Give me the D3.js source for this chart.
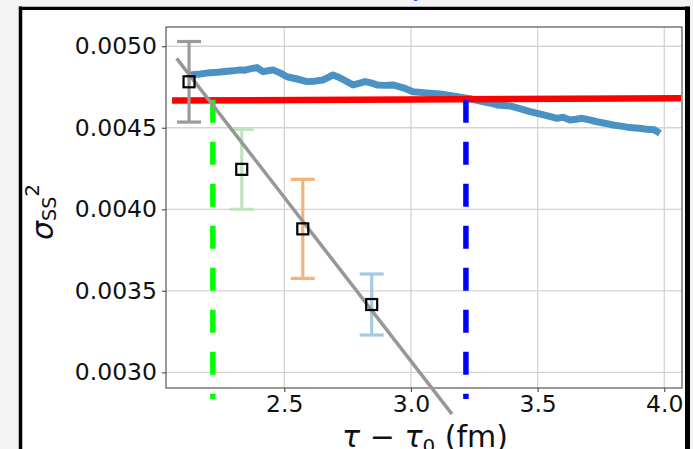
<!DOCTYPE html>
<html>
<head>
<meta charset="utf-8">
<script src="https://cdn.jsdelivr.net/npm/d3@7"></script>
<style>
  html, body { margin: 0; padding: 0; background: #f3f3f3; }
  svg { display: block; }
  text { font-family: "DejaVu Sans", sans-serif; }
</style>
</head>
<body>
<svg id="chart" width="693" height="449"></svg>
<script>
// Time-evolution curve of sigma_SS^2 (tau - tau0 in fm, value)
const curveTau = [2.128, 2.168, 2.207, 2.236, 2.266, 2.296, 2.325, 2.345, 2.365, 2.392, 2.416, 2.436,
  2.455, 2.485, 2.511, 2.550, 2.590, 2.620, 2.653, 2.672, 2.692, 2.712, 2.732, 2.771, 2.795, 2.819,
  2.842, 2.866, 2.898, 2.929, 2.970, 3.008, 3.060, 3.115, 3.160, 3.206, 3.240, 3.273, 3.310, 3.340,
  3.391, 3.430, 3.470, 3.520, 3.577, 3.600, 3.628, 3.652, 3.675, 3.705, 3.734, 3.765, 3.797, 3.830,
  3.864, 3.900, 3.931, 3.960, 3.983];
const curveVal = [0.004824, 0.004830, 0.004838, 0.004840, 0.004845, 0.004849, 0.004855, 0.004853,
  0.004861, 0.004869, 0.004844, 0.004850, 0.004855, 0.004835, 0.004813, 0.004799, 0.004783, 0.004786,
  0.004793, 0.004808, 0.004824, 0.004812, 0.004796, 0.004763, 0.004772, 0.004783, 0.004775, 0.004763,
  0.004760, 0.004763, 0.004745, 0.004721, 0.004714, 0.004707, 0.004697, 0.004685, 0.004676, 0.004664,
  0.004652, 0.004640, 0.004634, 0.004617, 0.004599, 0.004580, 0.004558, 0.004564, 0.004548, 0.004552,
  0.004558, 0.004548, 0.004537, 0.004528, 0.004517, 0.004510, 0.004501, 0.004497, 0.004491, 0.004488,
  0.004466];

// Red reference level
const refTau = [2.057, 4.066];
const refVal = [0.004667, 0.004681];

// Grey linear fit through the binned points
const fitTau = [2.075, 3.162];
const fitVal = [0.004926, 0.002744];

// Binned points with symmetric errors
const binTau = [2.124, 2.332, 2.573, 2.845];
const binVal = [0.004782, 0.004245, 0.003880, 0.003416];
const binErr = [0.000247, 0.000245, 0.000304, 0.000187];
const binColor = ["#9a9a9a", "#c0e3c0", "#f6b278", "#a5c9e1"];

// Vertical markers where the fit and the curve reach the red level
const markTau = [2.218, 3.217];
const markTop = 0.004672;
const markBottom = 0.002836;
const markColor = ["#00ff00", "#0000ff"];

const xTicks = [2.5, 3.0, 3.5, 4.0];
const yTicks = [0.0030, 0.0035, 0.0040, 0.0045, 0.0050];

const svg = d3.select("#chart");

// caption line running above the frame
svg.append("text")
  .attr("x", 330).attr("y", -3.5)
  .attr("font-family", "'Noto Sans', sans-serif")
  .attr("font-size", 20).attr("fill", "#2a6fdb")
  .text("Au+Au, y = 0, fit of σ²(τ) (fm)");

// white panel with black frame
svg.append("rect").attr("x", 20).attr("y", 8).attr("width", 668).attr("height", 460).attr("fill", "#fff");
svg.append("line").attr("x1", 20.5).attr("x2", 20.5).attr("y1", 6.5).attr("y2", 460)
  .attr("stroke", "#000").attr("stroke-width", 3.5);
svg.append("line").attr("x1", 19).attr("x2", 690).attr("y1", 8.3).attr("y2", 8.3)
  .attr("stroke", "#000").attr("stroke-width", 3.2);
svg.append("line").attr("x1", 687.5).attr("x2", 687.5).attr("y1", 6.5).attr("y2", 460)
  .attr("stroke", "#000").attr("stroke-width", 5);

const L = 166, R = 682, T = 27, B = 388;
const x = d3.scaleLinear().domain([2.033, 4.070]).range([L, R]);
const y = d3.scaleLinear().domain([0.002904, 0.005118]).range([B, T]);

// grid
const grid = svg.append("g").attr("stroke", "#d4d4d4").attr("stroke-width", 1.3);
xTicks.forEach(t => grid.append("line").attr("x1", x(t)).attr("x2", x(t)).attr("y1", T).attr("y2", B));
yTicks.forEach(t => grid.append("line").attr("x1", L).attr("x2", R).attr("y1", y(t)).attr("y2", y(t)));

// axes
const fmtY = d3.format(".4f"), fmtX = d3.format(".1f");
const gx = svg.append("g").attr("transform", `translate(0,${B})`)
  .call(d3.axisBottom(x).tickValues(xTicks).tickFormat(fmtX).tickSize(4).tickPadding(3.5));
const gy = svg.append("g").attr("transform", `translate(${L},0)`)
  .call(d3.axisLeft(y).tickValues(yTicks).tickFormat(fmtY).tickSize(4).tickPadding(5));
[gx, gy].forEach(g => {
  g.select(".domain").remove();
  g.selectAll(".tick line").attr("stroke", "#555").attr("stroke-width", 1.2);
  g.selectAll("text").attr("font-family", "'DejaVu Sans', sans-serif")
    .attr("font-size", 23.5).attr("fill", "#111");
});
svg.append("rect").attr("x", L).attr("y", T).attr("width", R - L).attr("height", B - T)
  .attr("fill", "none").attr("stroke", "#555").attr("stroke-width", 1.2);

// time curve
const curve = curveTau.map((t, i) => [t, curveVal[i]]);
svg.append("path").datum(curve)
  .attr("d", d3.line().x(d => x(d[0])).y(d => y(d[1])))
  .attr("fill", "none").attr("stroke", "#4b92c4").attr("stroke-width", 7)
  .attr("stroke-linejoin", "round").attr("stroke-linecap", "butt");

// red level
svg.append("line")
  .attr("x1", x(refTau[0])).attr("x2", x(refTau[1]))
  .attr("y1", y(refVal[0])).attr("y2", y(refVal[1]))
  .attr("stroke", "#ff0000").attr("stroke-width", 6.5);

// dashed markers
markTau.forEach((t, i) => {
  svg.append("line")
    .attr("x1", x(t)).attr("x2", x(t))
    .attr("y1", y(markTop)).attr("y2", y(markBottom))
    .attr("stroke", markColor[i]).attr("stroke-width", 5.5)
    .attr("stroke-dasharray", "23 19");
});

// error bars
const capHalf = 12;
binTau.forEach((t, i) => {
  const g = svg.append("g").attr("stroke", binColor[i]).attr("stroke-width", 3.2);
  const cx = x(t), y0 = y(binVal[i] + binErr[i]), y1 = y(binVal[i] - binErr[i]);
  g.append("line").attr("x1", cx).attr("x2", cx).attr("y1", y0).attr("y2", y1);
  g.append("line").attr("x1", cx - capHalf).attr("x2", cx + capHalf).attr("y1", y0).attr("y2", y0);
  g.append("line").attr("x1", cx - capHalf).attr("x2", cx + capHalf).attr("y1", y1).attr("y2", y1);
});

// linear fit
svg.append("line")
  .attr("x1", x(fitTau[0])).attr("x2", x(fitTau[1]))
  .attr("y1", y(fitVal[0])).attr("y2", y(fitVal[1]))
  .attr("stroke", "#979797").attr("stroke-width", 3.5);

// square markers
const sq = 11;
binTau.forEach((t, i) => {
  svg.append("rect")
    .attr("x", x(t) - sq / 2).attr("y", y(binVal[i]) - sq / 2)
    .attr("width", sq).attr("height", sq)
    .attr("fill", "none").attr("stroke", "#000").attr("stroke-width", 2.2);
});

// axis titles
svg.append("text")
  .attr("x", 425).attr("y", 447).attr("text-anchor", "middle")
  .attr("font-size", 30).attr("fill", "#111")
  .html('<tspan font-style="italic">τ</tspan> − <tspan font-style="italic">τ</tspan><tspan font-size="20" dy="6">0</tspan><tspan dy="-6"> (fm)</tspan>');

svg.append("text")
  .attr("transform", "translate(53,212) rotate(-90)")
  .attr("text-anchor", "middle")
  .attr("font-size", 30).attr("fill", "#111")
  .html('<tspan font-style="italic">σ</tspan><tspan font-size="19" dy="3">SS</tspan><tspan font-size="20" dy="-17">2</tspan>');
</script>
</body>
</html>
